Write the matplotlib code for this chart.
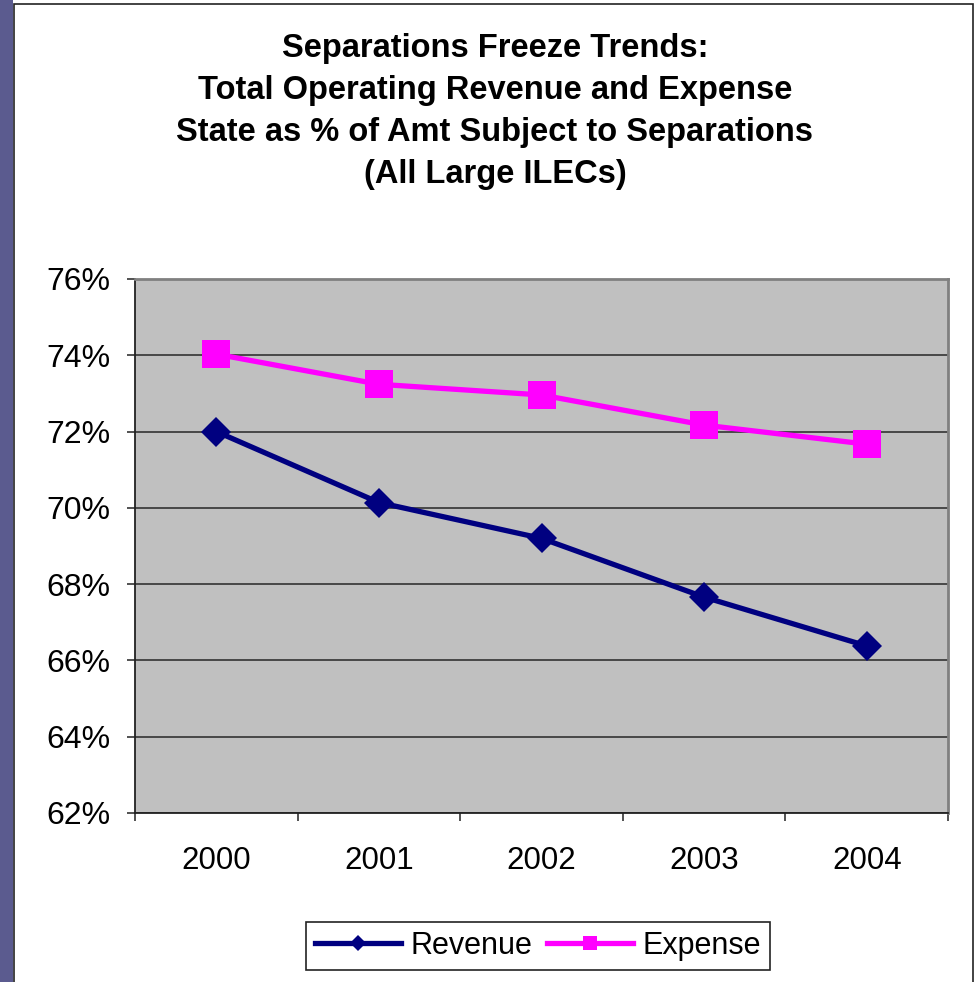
import matplotlib.pyplot as plt
from matplotlib.patches import Rectangle
from matplotlib.ticker import FuncFormatter

years = ["2000", "2001", "2002", "2003", "2004"]
revenue = [72.0, 70.14, 69.2, 67.66, 66.38]
expense = [74.03, 73.24, 72.96, 72.17, 71.67]
title_lines = [
    "Separations Freeze Trends:",
    "Total Operating Revenue and Expense",
    "State as % of Amt Subject to Separations",
    "(All Large ILECs)",
]

plt.rcParams["font.family"] = ["Liberation Sans", "DejaVu Sans"]

W, H = 974, 982
fig = plt.figure(figsize=(W / 100, H / 100), dpi=100)
fig.patch.set_facecolor("white")

# slide background strip on the left + chart frame
fig.add_artist(Rectangle((0, 0), 13 / W, 1, transform=fig.transFigure,
                         facecolor="#5b5b8f", edgecolor="none"))
fig.add_artist(Rectangle((13.5 / W, -0.01), (973 - 13.5) / W, 1 - 3.5 / H + 0.01,
                         transform=fig.transFigure, facecolor="none",
                         edgecolor="#222222", lw=1.2))

ax = fig.add_axes([135 / W, 1 - 813 / H, 813 / W, 534 / H])
ax.set_facecolor("#c0c0c0")

x = list(range(len(years)))
ax.plot(x, revenue, color="#000080", lw=3.8, marker="D", ms=15.5,
        mec="#000080", mew=0, label="Revenue", zorder=3)
ax.plot(x, expense, color="#ff00ff", lw=3.8, marker="s", ms=20,
        mec="#ff00ff", mew=0, label="Expense", zorder=3)

ax.set_xlim(-0.5, len(years) - 0.5)
ax.set_ylim(62, 76)
ax.set_yticks(range(62, 77, 2))
ax.yaxis.set_major_formatter(FuncFormatter(lambda v, p: f"{v:.0f}%"))
ax.set_xticks(x)
ax.set_xticklabels(years)
ax.set_xticks([i - 0.5 for i in range(len(years) + 1)], minor=True)

ax.tick_params(axis="x", which="major", length=0, pad=24, labelsize=22.5)
ax.tick_params(axis="x", which="minor", length=6, width=1.1, direction="out", color="#222222")
ax.tick_params(axis="y", length=6, width=1.1, direction="out", pad=12, labelsize=23, color="#222222")

ax.grid(axis="y", color="#333333", lw=1.2)
ax.set_axisbelow(True)
for s in ["left", "bottom"]:
    ax.spines[s].set_color("#222222")
    ax.spines[s].set_linewidth(1.3)
for s in ["top", "right"]:
    ax.spines[s].set_color("#808080")
    ax.spines[s].set_linewidth(2)

ys = [48, 91, 133, 175]
for line, y in zip(title_lines, ys):
    fig.text(495 / W, 1 - y / H, line, ha="center", va="center",
             fontsize=23.5, fontweight="bold")

leg = fig.legend(loc="center", bbox_to_anchor=(538 / W, 1 - 946 / H), ncol=2,
                 fontsize=22, handlelength=2.8, handletextpad=0.3,
                 columnspacing=0.5, borderpad=0.3, markerscale=0.5,
                 fancybox=False, framealpha=1, edgecolor="#222222")
leg.get_frame().set_linewidth(1.2)

fig.savefig("out.png", dpi=100)
